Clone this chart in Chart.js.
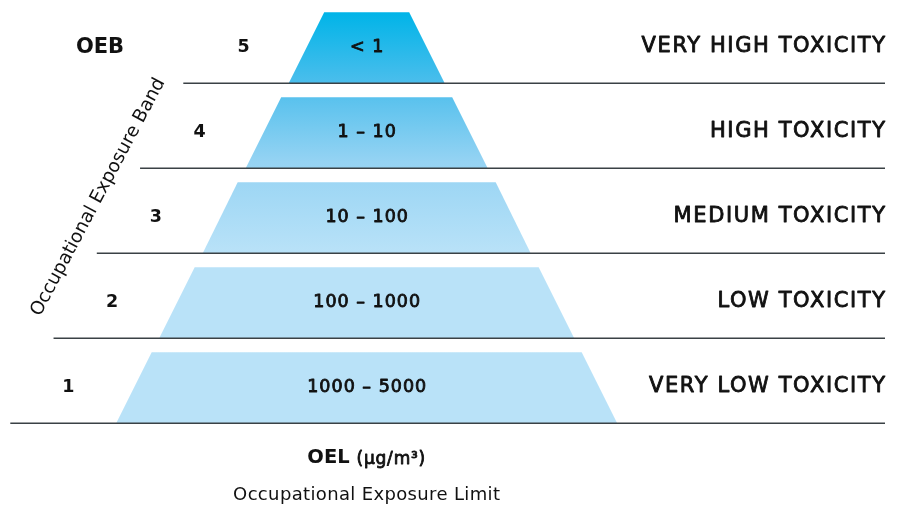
<!DOCTYPE html>
<html lang="en">
<head>
<meta charset="UTF-8">
<title>Occupational Exposure Bands</title>
<script src="https://cdn.jsdelivr.net/npm/chart.js"></script>
<style>
  html, body { margin: 0; padding: 0; background: #ffffff; }
  .wrap { width: 902px; height: 506px; position: relative; }
</style>
</head>
<body>
<div class="wrap"><canvas id="oebChart"></canvas></div>
<script>
// bands listed bottom (1) to top (5)
const bands = ['1', '2', '3', '4', '5'];
const oelRanges = ['1000 – 5000', '100 – 1000', '10 – 100', '1 – 10', '< 1'];
const toxicity = ['VERY LOW TOXICITY', 'LOW TOXICITY', 'MEDIUM TOXICITY', 'HIGH TOXICITY', 'VERY HIGH TOXICITY'];
// trapezoid widths (x axis units)
const bottomWidths = [501, 415, 328, 242, 156];
const topWidths = [430, 344, 258, 171, 85];

const FONT = '"DejaVu Sans", sans-serif';
const CENTER = 366.7;      // pyramid axis
const BAND_H = 71 / 85;    // filled part of each band
const RULE_END = 885;
const ruleStart = i => 10.3 + 43.25 * i;
const numberX = i => 68.3 + 43.8 * i;

function pyramidFill(context) {
  const chart = context.chart;
  if (!chart.chartArea) return '#b9e2f8';
  const y = chart.scales.y;
  const g = chart.ctx.createLinearGradient(0, y.getPixelForValue(4 + BAND_H), 0, y.getPixelForValue(2));
  g.addColorStop(0, '#00b4e8');
  g.addColorStop(0.3, '#4dbeec');
  g.addColorStop(0.62, '#95d3f3');
  g.addColorStop(1, '#b9e2f8');
  return g;
}

const datasets = [];
bands.forEach((b, i) => {
  datasets.push({
    label: 'OEB ' + b,
    data: [
      { x: CENTER - bottomWidths[i] / 2, y: i },
      { x: CENTER - topWidths[i] / 2, y: i + BAND_H },
      { x: CENTER + topWidths[i] / 2, y: i + BAND_H },
      { x: CENTER + bottomWidths[i] / 2, y: i }
    ],
    borderWidth: 0,
    borderColor: 'rgba(0,0,0,0)',
    backgroundColor: pyramidFill,
    fill: { value: i },
    pointRadius: 0,
    tension: 0,
    order: 2
  });
});
bands.forEach((b, i) => {
  datasets.push({
    label: 'rule ' + b,
    data: [{ x: ruleStart(i), y: i }, { x: RULE_END, y: i }],
    borderColor: '#3a4145',
    borderWidth: 1.6,
    pointRadius: 0,
    fill: false,
    order: 1
  });
});

// medium-weight text: regular face, a little tracking and a thin stroke
function medText(ctx, text, px, py, size, spacing, align) {
  ctx.font = size + 'px ' + FONT;
  ctx.letterSpacing = spacing + 'px';
  ctx.textAlign = align;
  const dx = align === 'right' ? spacing : align === 'center' ? spacing / 2 : 0;
  ctx.fillText(text, px + dx, py);
  ctx.lineWidth = 0.85;
  ctx.lineJoin = 'round';
  ctx.strokeStyle = ctx.fillStyle;
  ctx.strokeText(text, px + dx, py);
  ctx.letterSpacing = '0px';
}

const labelPlugin = {
  id: 'bandLabels',
  afterDatasetsDraw(chart) {
    const { ctx, scales: { x, y } } = chart;
    ctx.save();
    ctx.fillStyle = '#111111';
    ctx.textBaseline = 'middle';
    bands.forEach((b, i) => {
      const cy = y.getPixelForValue(i + BAND_H / 2);
      ctx.textAlign = 'center';
      ctx.font = 'bold 17.5px ' + FONT;
      ctx.fillText(b, x.getPixelForValue(numberX(i)), cy);
      medText(ctx, oelRanges[i], x.getPixelForValue(CENTER), cy, 17.5, 1, 'center');
      medText(ctx, toxicity[i], x.getPixelForValue(RULE_END), cy - 1, 21, 1.6, 'right');
    });

    // titles
    ctx.textAlign = 'center';
    ctx.font = 'bold 21px ' + FONT;
    ctx.fillText('OEB', x.getPixelForValue(100), y.getPixelForValue(4 + BAND_H / 2));

    const oelY = y.getPixelForValue(-0.41);
    ctx.font = 'bold 19.5px ' + FONT;
    const w1 = ctx.measureText('OEL ').width;
    ctx.font = '17px ' + FONT;
    ctx.letterSpacing = '0.8px';
    const w2 = ctx.measureText('(µg/m³)').width;
    ctx.letterSpacing = '0px';
    const left = x.getPixelForValue(CENTER) - (w1 + w2) / 2;
    ctx.textAlign = 'left';
    ctx.font = 'bold 19.5px ' + FONT;
    ctx.fillText('OEL ', left, oelY);
    medText(ctx, '(µg/m³)', left + w1, oelY + 1, 17, 0.8, 'left');

    ctx.textAlign = 'center';
    ctx.font = '18px ' + FONT;
    ctx.letterSpacing = '0.35px';
    ctx.fillText('Occupational Exposure Limit', x.getPixelForValue(CENTER), y.getPixelForValue(-0.845));
    ctx.letterSpacing = '0px';

    // slanted band axis title
    ctx.translate(x.getPixelForValue(98.3), y.getPixelForValue(2.66));
    ctx.rotate(-62 * Math.PI / 180);
    ctx.font = '18.5px ' + FONT;
    ctx.fillText('Occupational Exposure Band', 0, 0);
    ctx.restore();
  }
};

new Chart(document.getElementById('oebChart'), {
  type: 'line',
  data: { datasets: datasets },
  options: {
    responsive: true,
    maintainAspectRatio: false,
    animation: false,
    layout: { padding: 0 },
    plugins: { legend: { display: false }, tooltip: { enabled: false } },
    scales: {
      x: { type: 'linear', min: 0, max: 902, display: false },
      y: { type: 'linear', min: (423.3 - 506) / 85, max: 423.3 / 85, display: false }
    }
  },
  plugins: [labelPlugin]
});
</script>
</body>
</html>
